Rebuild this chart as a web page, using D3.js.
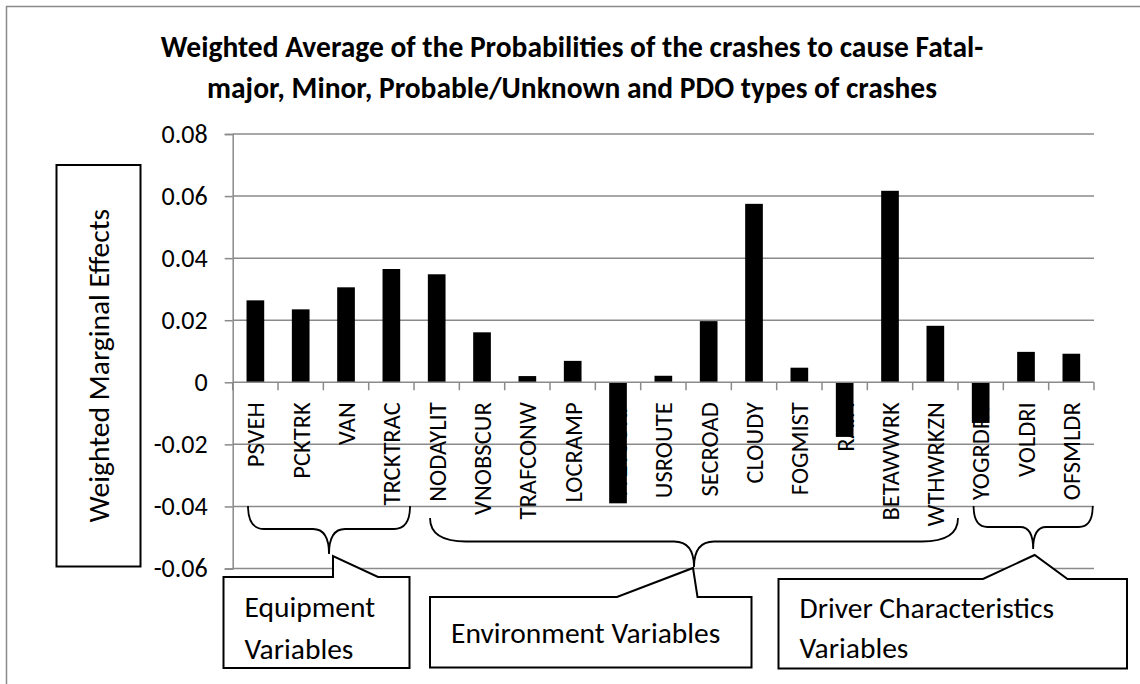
<!DOCTYPE html>
<html>
<head>
<meta charset="utf-8">
<script src="https://cdn.jsdelivr.net/npm/d3@7/dist/d3.min.js"></script>
<style>
  html, body { margin: 0; padding: 0; background: #fff; }
  svg { display: block; font-family: Carlito, Calibri, Lato, sans-serif; }
</style>
</head>
<body>
<svg id="chart" width="1140" height="684"></svg>
<script>
// Marginal effect variables and their weighted average marginal effects
const categories = [
  "PSVEH", "PCKTRK", "VAN", "TRCKTRAC", "NODAYLIT", "VNOBSCUR", "TRAFCONW",
  "LOCRAMP", "WETSURF", "USROUTE", "SECROAD", "CLOUDY", "FOGMIST", "RAIN",
  "BETAWWRK", "WTHWRKZN", "YOGRDRV", "VOLDRI", "OFSMLDR"
];
const values = [
  0.0264, 0.0235, 0.0306, 0.0365, 0.0348, 0.0161, 0.0020,
  0.0069, -0.0390, 0.0021, 0.0197, 0.0575, 0.0047, -0.0176,
  0.0617, 0.0182, -0.0131, 0.0098, 0.0092
];
const tickValues = [-0.06, -0.04, -0.02, 0, 0.02, 0.04, 0.06, 0.08];
const tickLabels = ["-0.06", "-0.04", "-0.02", "0", "0.02", "0.04", "0.06", "0.08"];

const titleLines = [
  "Weighted Average of the Probabilities of the crashes to cause Fatal-",
  "major, Minor, Probable/Unknown and PDO types of crashes"
];
const yTitle = "Weighted Marginal Effects";

// Variable groups: first and last category index, callout text lines
const groupFirst = [0, 4, 16];
const groupLast = [3, 15, 18];
const groupText = [
  ["Equipment", "Variables"],
  ["Environment Variables"],
  ["Driver Characteristics", "Variables"]
];

const svg = d3.select("#chart");
const data = categories.map((c, i) => ({ cat: c, val: values[i] }));

const plot = { left: 232.7, right: 1094, top: 134, bottom: 568.5 };
const gridColor = "#8a8a8a";

const y = d3.scaleLinear().domain([-0.06, 0.08]).range([plot.bottom, plot.top]);
const slot = d3.scaleBand().domain(categories).range([plot.left, plot.right]);
const xb = d3.scaleBand().domain(categories).range([plot.left, plot.right])
  .paddingInner(0.61).paddingOuter(0.305);

// chart area frame
svg.append("path")
  .attr("d", `M6.5,${684 + 5} L6.5,6.5 L${1140 + 5},6.5`)
  .attr("fill", "none").attr("stroke", gridColor).attr("stroke-width", 1.5);

// title
svg.append("g").selectAll("text").data(titleLines).join("text")
  .attr("x", 572).attr("y", (d, i) => 47 + i * 41).attr("dy", "0.35em")
  .attr("text-anchor", "middle").attr("font-weight", "bold")
  .attr("font-size", 29.5).attr("fill", "#000")
  .text(d => d);

// horizontal gridlines
svg.append("g").selectAll("line").data(tickValues.filter(v => v !== 0)).join("line")
  .attr("x1", plot.left).attr("x2", plot.right)
  .attr("y1", d => y(d)).attr("y2", d => y(d))
  .attr("stroke", gridColor).attr("stroke-width", 1.5);

// y axis with outward ticks
const yAxis = d3.axisLeft(y).tickValues(tickValues)
  .tickFormat((d, i) => tickLabels[i]).tickSize(8).tickPadding(17);
const gy = svg.append("g").attr("transform", `translate(${plot.left},0)`).call(yAxis);
gy.select(".domain").attr("stroke", gridColor).attr("stroke-width", 1.5);
gy.selectAll(".tick line").attr("stroke", gridColor).attr("stroke-width", 1.5);
gy.selectAll(".tick text").attr("font-size", 26).attr("fill", "#000")
  .attr("font-family", "Carlito, Calibri, Lato, sans-serif");

// category labels, rotated, hanging below the zero line
svg.append("g").selectAll("text").data(data).join("text")
  .attr("transform", d => `translate(${slot(d.cat) + slot.bandwidth() / 2},${y(0) + 20}) rotate(-90)`)
  .attr("text-anchor", "end").attr("dy", "0.36em")
  .attr("font-size", 24.5).attr("fill", "#000")
  .text(d => d.cat);

// bars
svg.append("g").selectAll("rect").data(data).join("rect")
  .attr("x", d => xb(d.cat))
  .attr("width", xb.bandwidth())
  .attr("y", d => y(Math.max(0, d.val)))
  .attr("height", d => Math.abs(y(d.val) - y(0)))
  .attr("fill", "#000");

// category axis at zero with ticks between categories
const gx = svg.append("g").attr("transform", `translate(0,${y(0)})`);
gx.append("line").attr("x1", plot.left).attr("x2", plot.right)
  .attr("stroke", gridColor).attr("stroke-width", 1.5);
const bounds = categories.map(c => slot(c)).concat([plot.right]);
gx.selectAll("line.tk").data(bounds).join("line").attr("class", "tk")
  .attr("x1", d => d).attr("x2", d => d).attr("y1", 0).attr("y2", 8)
  .attr("stroke", gridColor).attr("stroke-width", 1.5);

// y axis title box
svg.append("rect").attr("x", 56.5).attr("y", 165).attr("width", 84).attr("height", 401.5)
  .attr("fill", "#fff").attr("stroke", "#000").attr("stroke-width", 2);
svg.append("text")
  .attr("transform", `translate(98.5,${(165 + 566.5) / 2}) rotate(-90)`)
  .attr("text-anchor", "middle").attr("dy", "0.35em")
  .attr("font-size", 29.5).attr("fill", "#000")
  .text(yTitle);

// curly braces under each variable group
const braceSpec = [
  { top: 506, mid: 529, tip: 554, r: 16, r2: 16, pad: [15.3, 4] },
  { top: 518, mid: 541.5, tip: 567, r: 36, r2: 20, pad: [16, 0] },
  { top: 506, mid: 527, tip: 549, r: 14, r2: 13, pad: [15.6, 1.3] }
];
function bracePath(x1, x2, s) {
  const xm = (x1 + x2) / 2;
  return `M${x1},${s.top} Q${x1},${s.mid} ${x1 + s.r},${s.mid} L${xm - s.r2},${s.mid}` +
    ` Q${xm},${s.mid} ${xm},${s.tip} Q${xm},${s.mid} ${xm + s.r2},${s.mid}` +
    ` L${x2 - s.r},${s.mid} Q${x2},${s.mid} ${x2},${s.top}`;
}
const braces = groupFirst.map((f, i) => {
  const s = braceSpec[i];
  const x1 = slot(categories[f]) + s.pad[0];
  const x2 = slot(categories[groupLast[i]]) + slot.bandwidth() - s.pad[1];
  return { x1, x2, xm: (x1 + x2) / 2, s };
});
svg.append("g").selectAll("path").data(braces).join("path")
  .attr("d", b => bracePath(b.x1, b.x2, b.s))
  .attr("fill", "none").attr("stroke", "#000").attr("stroke-width", 1.8);

// callout boxes pointing at the braces
const callouts = [
  { x0: 223.5, x1: 409.5, y0: 577, y1: 668, wl: 333, wr: 378, tipDx: 4, tipDy: 2, lead: 30, gap: 42 },
  { x0: 430, x1: 751.5, y0: 597, y1: 667.5, wl: 617, wr: 697.5, tipDx: -1, tipDy: 1, lead: 0, gap: 0 },
  { x0: 778.5, x1: 1127, y0: 579, y1: 668.5, wl: 983, wr: 1067.5, tipDx: 1.5, tipDy: 6, lead: 29, gap: 40 }
];
const gc = svg.append("g");
callouts.forEach((c, i) => {
  const b = braces[i];
  const tipX = b.xm + c.tipDx, tipY = b.s.tip + c.tipDy;
  gc.append("path")
    .attr("d", `M${c.x0},${c.y0} L${c.wl},${c.y0} L${tipX},${tipY} L${c.wr},${c.y0}` +
      ` L${c.x1},${c.y0} L${c.x1},${c.y1} L${c.x0},${c.y1} Z`)
    .attr("fill", "#fff").attr("stroke", "#000").attr("stroke-width", 2)
    .attr("stroke-linejoin", "miter");
  const lines = groupText[i];
  const cy = lines.length === 1 ? (c.y0 + c.y1) / 2 : c.y0 + c.lead;
  gc.selectAll(null).data(lines).join("text")
    .attr("x", c.x0 + 21).attr("y", (d, j) => cy + j * c.gap).attr("dy", "0.35em")
    .attr("font-size", 29.5).attr("fill", "#000")
    .text(d => d);
});
</script>
</body>
</html>
